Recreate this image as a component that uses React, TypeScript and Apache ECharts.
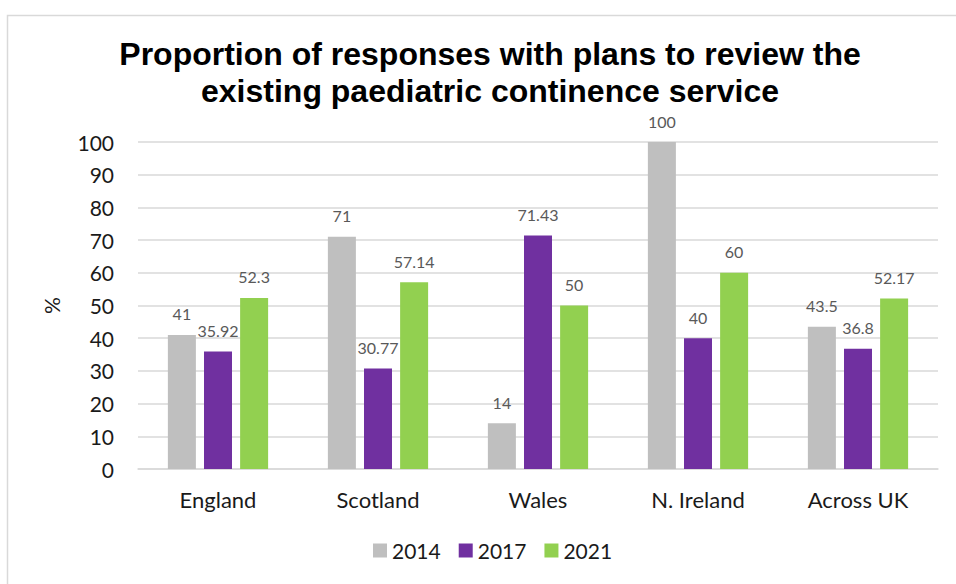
import React, { useEffect, useRef } from "react";
import * as echarts from "echarts";

const titleLines = [
  "Proportion of responses with plans to review the",
  "existing paediatric continence service",
];
const categories = ["England", "Scotland", "Wales", "N. Ireland", "Across UK"];
const seriesNames = ["2014", "2017", "2021"];
const values2014 = [41, 71, 14, 100, 43.5];
const values2017 = [35.92, 30.77, 71.43, 40, 36.8];
const values2021 = [52.3, 57.14, 50, 60, 52.17];
const seriesColors = ["#bfbfbf", "#7030a0", "#92d050"];
const yTicks = { min: 0, max: 100, interval: 10 };

export default function App() {
  const ref = useRef<HTMLDivElement>(null);
  useEffect(() => {
    if (!ref.current) return;
    const chart = echarts.init(ref.current, undefined, { renderer: "svg" });
    const allValues = [values2014, values2017, values2021];
    chart.setOption({
      animation: false,
      backgroundColor: "#ffffff",
      title: {
        text: titleLines.join("\n"),
        left: 485,
        top: 30,
        textAlign: "center",
        textStyle: {
          fontFamily: "Liberation Sans, Arial, sans-serif",
          fontWeight: "bold",
          fontSize: 32,
          lineHeight: 37,
          color: "#000000",
        },
      },
      graphic: [
        {
          type: "rect",
          shape: { x: 7.5, y: 15.5, width: 1000, height: 1000 },
          style: { fill: "none", stroke: "#d9d9d9", lineWidth: 1.5 },
          silent: true,
        },
      ],
      legend: {
        data: seriesNames,
        left: 368,
        top: 535,
        icon: "rect",
        itemWidth: 14,
        itemHeight: 14,
        itemGap: 18,
        textStyle: { fontFamily: "Lato, sans-serif", fontSize: 21, color: "#1a1a1a" },
      },
      grid: { left: 138, right: 18, top: 142, bottom: 115 },
      xAxis: {
        type: "category",
        data: categories,
        axisTick: { show: false },
        axisLine: { lineStyle: { color: "#d9d9d9", width: 1.5 } },
        axisLabel: {
          margin: 19,
          fontFamily: "Lato, sans-serif",
          fontSize: 22,
          color: "#1a1a1a",
        },
      },
      yAxis: {
        type: "value",
        min: yTicks.min,
        max: yTicks.max,
        interval: yTicks.interval,
        name: "%",
        nameLocation: "middle",
        nameGap: 76,
        nameTextStyle: { fontFamily: "Lato, sans-serif", fontSize: 21, color: "#1a1a1a" },
        axisLine: { show: false },
        axisTick: { show: false },
        splitLine: { lineStyle: { color: "#d9d9d9", width: 1.5 } },
        axisLabel: {
          margin: 24,
          fontFamily: "Lato, sans-serif",
          fontSize: 21,
          color: "#1a1a1a",
        },
      },
      series: seriesNames.map((name, i) => ({
        name,
        type: "bar",
        data: allValues[i],
        barWidth: 28,
        barGap: "29%",
        itemStyle: { color: seriesColors[i] },
        label: {
          show: true,
          position: "top",
          distance: 13,
          fontFamily: "Lato, sans-serif",
          fontSize: 16,
          color: "#595959",
        },
      })),
    });
    return () => chart.dispose();
  }, []);
  return (
    <div
      ref={ref}
      style={{ position: "fixed", left: 0, top: 0, width: 956, height: 584 }}
    />
  );
}
